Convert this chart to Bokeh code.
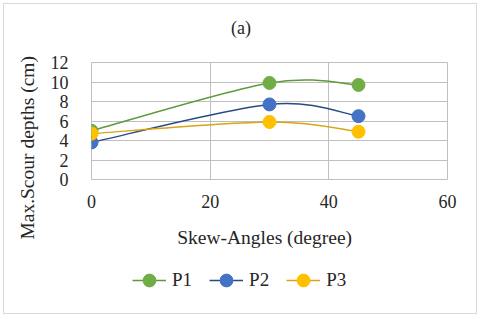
from bokeh.plotting import figure
from bokeh.layouts import column
from bokeh.models import Range1d, Legend, LegendItem, Title, FixedTicker, ColumnDataSource
from bokeh.embed import file_html
from bokeh.resources import INLINE

# ---- data ----
angles = [0, 30, 45]
p1 = [5.0, 9.9, 9.7]
p2 = [3.8, 7.7, 6.5]
p3 = [4.7, 5.9, 4.9]
series = [p1, p2, p3]
series_names = ["P1", "P2", "P3"]
marker_colors = ["#70AD47", "#4472C4", "#FFC000"]
line_colors = ["#5E9A3A", "#2A4A86", "#D9A514"]
x_ticks = [0, 20, 40, 60]
y_ticks = [0, 2, 4, 6, 8, 10, 12]
chart_title = "(a)"

FONT = "Liberation Serif"
TXT = "#262626"
GRID = "#BFBFBF"
NB = "\u00a0"
W = 480

# ---- main chart ----
p = figure(width=W, height=260, output_backend="svg", toolbar_location=None,
           x_range=Range1d(0, 60), y_range=Range1d(0, 12),
           min_border_left=91, min_border_right=33, min_border_top=62, min_border_bottom=81)
p.background_fill_color = "white"
p.border_fill_color = None
p.outline_line_color = GRID
p.outline_line_width = 1

p.title = Title(text=chart_title + "\n", align="left", offset=139.5, standoff=9,
                vertical_align="bottom", text_font=FONT, text_font_size="18px",
                text_font_style="normal", text_color=TXT)

for ax in (p.xaxis[0], p.yaxis[0]):
    ax.axis_line_color = None
    ax.major_tick_line_color = None
    ax.minor_tick_line_color = None
    ax.major_label_text_font = FONT
    ax.major_label_text_font_size = "18px"
    ax.major_label_text_color = TXT
    ax.axis_label_text_font = FONT
    ax.axis_label_text_font_size = "19.5px"
    ax.axis_label_text_font_style = "normal"
    ax.axis_label_text_color = TXT

p.xaxis.ticker = FixedTicker(ticks=x_ticks)
p.yaxis.ticker = FixedTicker(ticks=y_ticks)
p.xaxis.axis_label = "Skew-Angles (degree)" + NB * 2
p.yaxis.axis_label = "Max.Scour depths (cm)" + NB * 11
p.xaxis.major_label_standoff = 9
p.xaxis.axis_label_standoff = 16
p.yaxis.major_label_standoff = 17
p.yaxis.axis_label_standoff = 10

p.xgrid.ticker = FixedTicker(ticks=x_ticks)
p.ygrid.ticker = FixedTicker(ticks=y_ticks)
p.xgrid.grid_line_color = GRID
p.ygrid.grid_line_color = GRID


def smooth_controls(xs, ys):
    # Catmull-Rom style bezier control points (Excel-like smoothed line)
    n = len(xs)
    out = {k: [] for k in ("x0", "y0", "x1", "y1", "cx0", "cy0", "cx1", "cy1")}
    for i in range(n - 1):
        im1 = max(i - 1, 0)
        ip2 = min(i + 2, n - 1)
        out["x0"].append(xs[i]); out["y0"].append(ys[i])
        out["x1"].append(xs[i + 1]); out["y1"].append(ys[i + 1])
        out["cx0"].append(xs[i] + (xs[i + 1] - xs[im1]) / 6.0)
        out["cy0"].append(ys[i] + (ys[i + 1] - ys[im1]) / 6.0)
        out["cx1"].append(xs[i + 1] - (xs[ip2] - xs[i]) / 6.0)
        out["cy1"].append(ys[i + 1] - (ys[ip2] - ys[i]) / 6.0)
    return out


for ys, mc, lc in zip(series, marker_colors, line_colors):
    src = ColumnDataSource(smooth_controls(angles, ys))
    p.bezier(x0="x0", y0="y0", x1="x1", y1="y1", cx0="cx0", cy0="cy0",
             cx1="cx1", cy1="cy1", source=src, line_color=lc, line_width=1.5)
    p.scatter(angles, ys, size=13, marker="circle", fill_color=mc, line_color=mc)

# ---- legend strip (frame aligned with the chart frame by the column) ----
lfig = figure(width=W, height=57, output_backend="svg", toolbar_location=None,
              x_axis_type=None, y_axis_type=None,
              x_range=Range1d(-1000, -999), y_range=Range1d(-1000, -999),
              min_border=0, min_border_left=0, min_border_right=0,
              min_border_top=0, min_border_bottom=0)
lfig.outline_line_color = None
lfig.grid.visible = False
lfig.background_fill_color = None
lfig.border_fill_color = None

items = []
for name, ys, mc, lc in zip(series_names, series, marker_colors, line_colors):
    lr = lfig.line(angles, ys, line_color=lc, line_width=1.5)
    sr = lfig.scatter(angles, ys, size=13, marker="circle", fill_color=mc, line_color=mc)
    items.append(LegendItem(label=name, renderers=[lr, sr]))

legend = Legend(items=items, orientation="horizontal", location=(41, 21),
                glyph_width=34, glyph_height=32, label_standoff=6, spacing=17,
                padding=0, margin=0, border_line_color=None, background_fill_alpha=0,
                label_text_font=FONT, label_text_font_size="19px", label_text_color=TXT)
lfig.add_layout(legend, "center")

layout = column(p, lfig, spacing=0,
                styles={"outline": "1px solid #D9D9D9", "outline-offset": "-4px"})

open("out.html", "w").write(file_html(layout, INLINE))
